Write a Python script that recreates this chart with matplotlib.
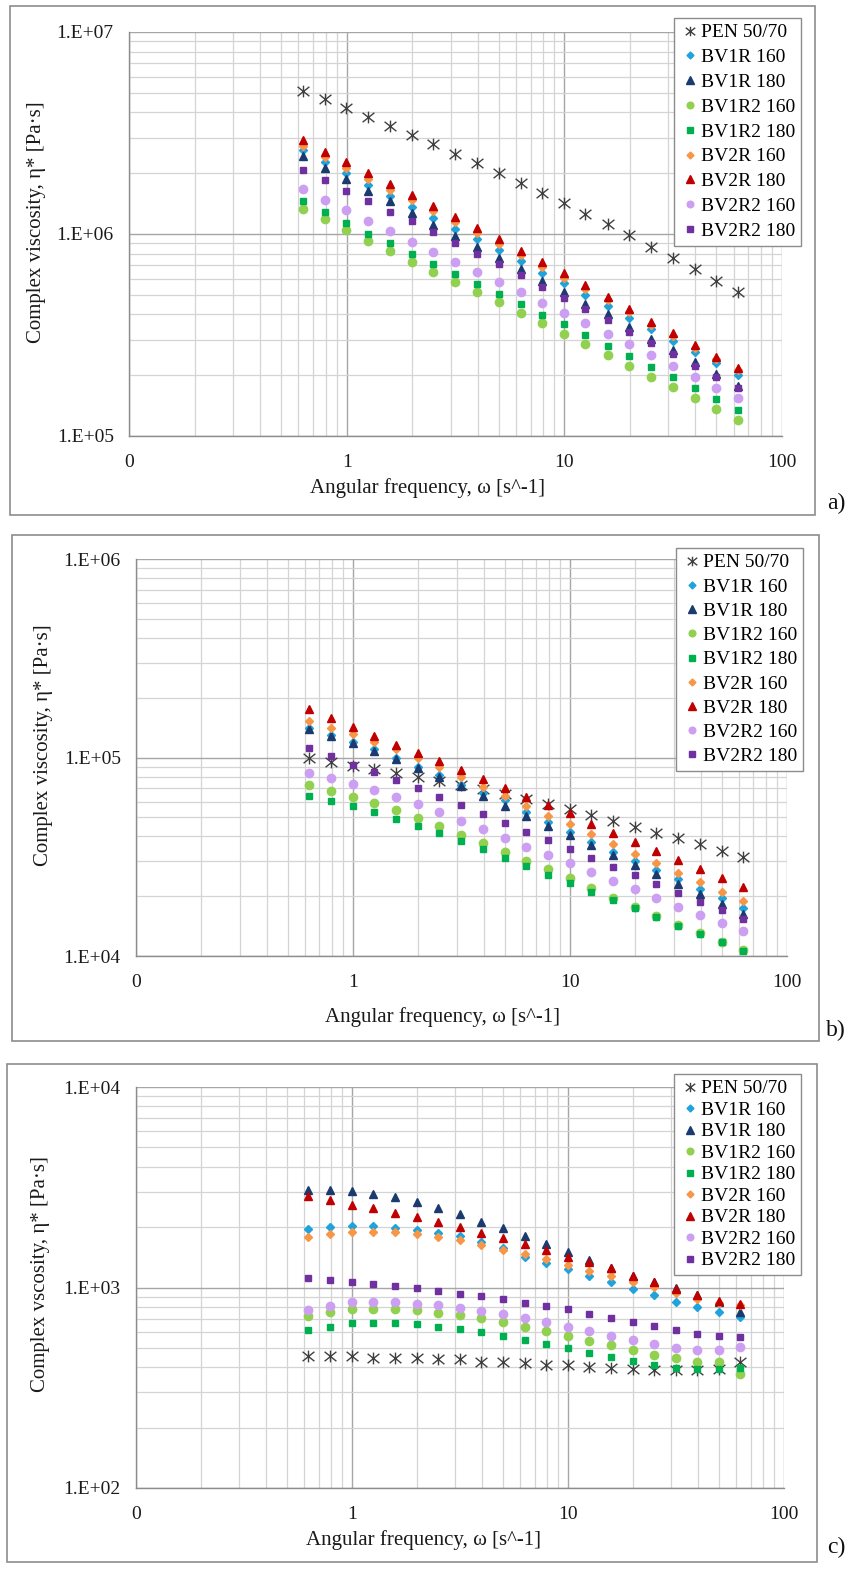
import math
import matplotlib
matplotlib.use('Agg')
import matplotlib.pyplot as plt
from matplotlib.path import Path
from matplotlib.patches import Rectangle
from matplotlib.ticker import FixedLocator, LogLocator, NullFormatter

plt.rcParams['font.family'] = ['Liberation Serif', 'DejaVu Serif']

# ---- data ----
freq = [0.628, 0.791, 0.996, 1.25, 1.58, 1.99, 2.5, 3.15, 3.97, 5.0, 6.29,
        7.92, 9.97, 12.5, 15.8, 19.9, 25.0, 31.5, 39.7, 50.0, 62.8]

names = ['PEN 50/70', 'BV1R 160', 'BV1R 180', 'BV1R2 160', 'BV1R2 180',
         'BV2R 160', 'BV2R 180', 'BV2R2 160', 'BV2R2 180']

# panel a)
pen_a = [5.1e6, 4.66e6, 4.22e6, 3.8e6, 3.43e6, 3.1e6, 2.79e6, 2.5e6, 2.24e6, 2.01e6, 1.79e6,
         1.6e6, 1.43e6, 1.26e6, 1.12e6, 9.86e5, 8.66e5, 7.64e5, 6.73e5, 5.87e5, 5.18e5]
bv1r160_a = [2.61e6, 2.26e6, 2.0e6, 1.74e6, 1.54e6, 1.36e6, 1.2e6, 1.06e6, 9.42e5, 8.34e5, 7.35e5,
             6.43e5, 5.7e5, 4.99e5, 4.41e5, 3.85e5, 3.37e5, 2.96e5, 2.61e5, 2.29e5, 2.0e5]
bv1r180_a = [2.44e6, 2.13e6, 1.87e6, 1.64e6, 1.45e6, 1.27e6, 1.11e6, 9.77e5, 8.65e5, 7.59e5, 6.71e5,
             5.87e5, 5.18e5, 4.5e5, 4.0e5, 3.48e5, 3.01e5, 2.67e5, 2.33e5, 2.03e5, 1.77e5]
bv1r2160_a = [1.33e6, 1.18e6, 1.05e6, 9.23e5, 8.2e5, 7.29e5, 6.5e5, 5.78e5, 5.14e5, 4.59e5, 4.05e5,
              3.61e5, 3.2e5, 2.84e5, 2.52e5, 2.23e5, 1.97e5, 1.74e5, 1.54e5, 1.36e5, 1.2e5]
bv1r2180_a = [1.46e6, 1.29e6, 1.14e6, 1.0e6, 9.0e5, 7.98e5, 7.08e5, 6.34e5, 5.65e5, 5.05e5, 4.49e5,
              3.98e5, 3.57e5, 3.16e5, 2.8e5, 2.49e5, 2.2e5, 1.95e5, 1.72e5, 1.52e5, 1.35e5]
bv2r160_a = [2.72e6, 2.4e6, 2.12e6, 1.88e6, 1.66e6, 1.47e6, 1.3e6, 1.15e6, 1.01e6, 8.9e5, 7.85e5,
             6.9e5, 6.08e5, 5.33e5, 4.7e5, 4.1e5, 3.56e5, 3.12e5, 2.74e5, 2.4e5, 2.12e5]
bv2r180_a = [2.92e6, 2.55e6, 2.26e6, 2.0e6, 1.76e6, 1.56e6, 1.38e6, 1.22e6, 1.07e6, 9.42e5, 8.26e5,
             7.26e5, 6.38e5, 5.57e5, 4.9e5, 4.26e5, 3.68e5, 3.22e5, 2.82e5, 2.47e5, 2.18e5]
bv2r2160_a = [1.67e6, 1.47e6, 1.31e6, 1.16e6, 1.03e6, 9.16e5, 8.17e5, 7.24e5, 6.5e5, 5.78e5, 5.14e5,
              4.57e5, 4.07e5, 3.61e5, 3.2e5, 2.84e5, 2.52e5, 2.22e5, 1.95e5, 1.73e5, 1.54e5]
bv2r2180_a = [2.07e6, 1.85e6, 1.64e6, 1.46e6, 1.29e6, 1.16e6, 1.02e6, 9.0e5, 7.96e5, 7.08e5, 6.25e5,
              5.48e5, 4.84e5, 4.26e5, 3.75e5, 3.28e5, 2.88e5, 2.54e5, 2.23e5, 1.95e5, 1.72e5]

# panel b)
pen_b = [9.91e4, 9.46e4, 9.1e4, 8.71e4, 8.32e4, 7.94e4, 7.62e4, 7.28e4, 6.92e4, 6.55e4, 6.21e4,
         5.83e4, 5.48e4, 5.12e4, 4.76e4, 4.49e4, 4.18e4, 3.92e4, 3.66e4, 3.4e4, 3.16e4]
bv1r160_b = [1.4e5, 1.3e5, 1.2e5, 1.1e5, 1.0e5, 8.99e4, 8.17e4, 7.28e4, 6.61e4, 6.11e4, 5.33e4,
             4.75e4, 4.23e4, 3.77e4, 3.36e4, 3.02e4, 2.71e4, 2.44e4, 2.17e4, 1.95e4, 1.75e4]
bv1r180_b = [1.39e5, 1.29e5, 1.18e5, 1.08e5, 9.82e4, 8.81e4, 8.0e4, 7.21e4, 6.4e4, 5.71e4, 5.09e4,
             4.52e4, 4.07e4, 3.62e4, 3.23e4, 2.87e4, 2.59e4, 2.31e4, 2.05e4, 1.83e4, 1.62e4]
bv1r2160_b = [7.24e4, 6.81e4, 6.35e4, 5.87e4, 5.42e4, 4.94e4, 4.52e4, 4.08e4, 3.7e4, 3.34e4, 3.02e4,
              2.74e4, 2.46e4, 2.19e4, 1.95e4, 1.77e4, 1.59e4, 1.43e4, 1.3e4, 1.18e4, 1.07e4]
bv1r2180_b = [6.4e4, 6.04e4, 5.7e4, 5.31e4, 4.9e4, 4.54e4, 4.15e4, 3.79e4, 3.44e4, 3.13e4, 2.84e4,
              2.56e4, 2.34e4, 2.11e4, 1.91e4, 1.74e4, 1.57e4, 1.42e4, 1.29e4, 1.17e4, 1.06e4]
bv2r160_b = [1.53e5, 1.41e5, 1.31e5, 1.2e5, 1.1e5, 9.98e4, 8.93e4, 8.0e4, 7.13e4, 6.4e4, 5.71e4,
             5.09e4, 4.6e4, 4.1e4, 3.66e4, 3.27e4, 2.93e4, 2.63e4, 2.35e4, 2.11e4, 1.9e4]
bv2r180_b = [1.75e5, 1.59e5, 1.43e5, 1.29e5, 1.16e5, 1.05e5, 9.64e4, 8.65e4, 7.76e4, 7.0e4, 6.3e4,
             5.77e4, 5.24e4, 4.6e4, 4.15e4, 3.77e4, 3.38e4, 3.05e4, 2.74e4, 2.46e4, 2.23e4]
bv2r2160_b = [8.32e4, 7.85e4, 7.36e4, 6.85e4, 6.35e4, 5.83e4, 5.31e4, 4.81e4, 4.35e4, 3.94e4, 3.56e4,
              3.24e4, 2.95e4, 2.66e4, 2.4e4, 2.18e4, 1.97e4, 1.77e4, 1.61e4, 1.46e4, 1.33e4]
bv2r2180_b = [1.12e5, 1.02e5, 9.16e4, 8.49e4, 7.71e4, 7.0e4, 6.35e4, 5.74e4, 5.19e4, 4.68e4, 4.23e4,
              3.84e4, 3.46e4, 3.1e4, 2.82e4, 2.56e4, 2.3e4, 2.08e4, 1.88e4, 1.71e4, 1.53e4]

# panel c)
pen_c = [456, 455, 455, 446, 446, 443, 438, 438, 426, 426, 421,
         413, 410, 402, 397, 394, 387, 387, 387, 394, 423]
bv1r160_c = [1954, 2005, 2037, 2028, 1991, 1936, 1879, 1816, 1694, 1581, 1426,
             1321, 1233, 1146, 1062, 983, 918, 849, 796, 757, 715]
bv1r180_c = [3048, 3069, 3013, 2917, 2812, 2667, 2489, 2323, 2133, 1977, 1807,
             1648, 1510, 1371, 1247, 1146, 1062, 991, 918, 849, 757]
bv1r2160_c = [721, 757, 778, 782, 782, 769, 748, 729, 702, 670, 637,
              607, 574, 542, 516, 487, 463, 443, 426, 426, 372]
bv1r2180_c = [611, 637, 662, 667, 667, 655, 637, 621, 601, 573, 547,
              520, 497, 469, 448, 430, 413, 397, 394, 394, 397]
bv2r160_c = [1782, 1845, 1901, 1901, 1888, 1849, 1782, 1726, 1629, 1538, 1469,
             1384, 1294, 1208, 1143, 1069, 1002, 935, 877, 834, 818]
bv2r180_c = [2844, 2729, 2582, 2489, 2350, 2244, 2118, 2014, 1879, 1762, 1648,
             1538, 1426, 1335, 1256, 1146, 1062, 983, 918, 856, 824]
bv2r2160_c = [772, 811, 843, 843, 843, 830, 818, 793, 766, 735, 702,
              670, 637, 607, 574, 547, 522, 500, 487, 487, 506]
bv2r2180_c = [1112, 1086, 1062, 1038, 1019, 991, 961, 931, 910, 877, 839,
              809, 778, 740, 706, 675, 644, 615, 588, 570, 564]

panels = [
    ([pen_a, bv1r160_a, bv1r180_a, bv1r2160_a, bv1r2180_a, bv2r160_a, bv2r180_a, bv2r2160_a, bv2r2180_a],
     (1e5, 1e7), 'Complex viscosity, \u03b7* [Pa\u00b7s]', 'a)'),
    ([pen_b, bv1r160_b, bv1r180_b, bv1r2160_b, bv1r2180_b, bv2r160_b, bv2r180_b, bv2r2160_b, bv2r2180_b],
     (1e4, 1e6), 'Complex viscosity, \u03b7* [Pa\u00b7s]', 'b)'),
    ([pen_c, bv1r160_c, bv1r180_c, bv1r2160_c, bv1r2180_c, bv2r160_c, bv2r180_c, bv2r2160_c, bv2r2180_c],
     (1e2, 1e4), 'Complex vscosity, \u03b7* [Pa\u00b7s]', 'c)'),
]

# ---- styles ----
star = Path([(-0.5, -0.4), (0.5, 0.4), (-0.5, 0.4), (0.5, -0.4), (0, -0.5), (0, 0.5)],
            [Path.MOVETO, Path.LINETO, Path.MOVETO, Path.LINETO, Path.MOVETO, Path.LINETO])
styles = [
    dict(marker=star, color='#404040', ms=8.5, mfc='none', mew=1.0),
    dict(marker='D', color='#1FA3DD', ms=4.4),
    dict(marker='^', color='#1B3A6F', ms=6.4),
    dict(marker='o', color='#92D050', ms=6.0),
    dict(marker='s', color='#00B050', ms=4.8),
    dict(marker='D', color='#F79646', ms=4.4),
    dict(marker='^', color='#C00000', ms=6.4),
    dict(marker='o', color='#CC9FF2', ms=6.0),
    dict(marker='s', color='#7030A0', ms=4.8),
]

W, H = 853, 1581
fig = plt.figure(figsize=(W / 100, H / 100), dpi=100)


def fx(px):
    return px / W


def fy(py):
    return 1 - py / H


# pixel boxes: axes (l, t, r, b), border (l, t, r, b), legend top-left + row spacing,
# x-label centre, y-label (right edge, centre), letter pos
layout = [
    dict(ax=(129, 32, 782, 436), box=(10, 6, 815, 515), leg=(674, 18), ls=0.37,
         xl=(428, 488), yl=(46, 222), let=(836, 503)),
    dict(ax=(136, 559, 787, 956), box=(12, 535, 819, 1041), leg=(676, 548), ls=0.34,
         xl=(443, 1017), yl=(53, 745), let=(836, 1030)),
    dict(ax=(136, 1087, 784, 1488), box=(7, 1064, 817, 1562), leg=(674, 1074), ls=0.2,
         xl=(424, 1540), yl=(50, 1274), let=(836, 1547)),
]

for (series, ylim, ylab, letter), lay in zip(panels, layout):
    l, t, r, b = lay['ax']
    ax = fig.add_axes([fx(l), fy(b), fx(r - l), (b - t) / H])
    ax.set_xscale('log')
    ax.set_yscale('log')
    ax.set_xlim(0.1, 100)
    ax.set_ylim(*ylim)

    for i, (name, vals) in enumerate(zip(names, series)):
        ax.plot(freq, vals, linestyle='none', label=name, zorder=3 + i, **styles[i])

    # excel-like grid
    ax.xaxis.set_major_locator(FixedLocator([0.1, 1, 10, 100]))
    ax.set_xticklabels(['0', '1', '10', '100'])
    ax.xaxis.set_minor_locator(LogLocator(base=10, subs=range(2, 10)))
    ax.xaxis.set_minor_formatter(NullFormatter())
    lo, hi = ylim
    yt = [lo, lo * 10, hi]
    ax.yaxis.set_major_locator(FixedLocator(yt))
    ax.set_yticklabels(['1.E+%02d' % round(math.log10(v)) for v in yt])
    ax.yaxis.set_minor_locator(LogLocator(base=10, subs=range(2, 10)))
    ax.yaxis.set_minor_formatter(NullFormatter())
    ax.grid(True, which='major', color='#A6A6A6', lw=1.0)
    ax.grid(True, which='minor', color='#D4D4D4', lw=0.9)
    ax.set_axisbelow(True)
    ax.tick_params(which='both', length=0, labelsize=14, colors='#1a1a1a')
    ax.tick_params(axis='x', pad=13)
    ax.tick_params(axis='y', pad=11)
    for s in ['top', 'right']:
        ax.spines[s].set_visible(False)
    for s in ['left', 'bottom']:
        ax.spines[s].set_color('#8C8C8C')
        ax.spines[s].set_linewidth(1.0)

    ax.set_ylabel(ylab, fontsize=15, color='#1a1a1a')
    ax.yaxis.set_label_coords((lay['yl'][0] - l) / (r - l), (b - lay['yl'][1]) / (b - t))
    fig.text(fx(lay['xl'][0]), fy(lay['xl'][1]), 'Angular frequency, \u03c9 [s^-1]',
             fontsize=15, ha='center', va='center', color='#1a1a1a')

    leg = ax.legend(loc='upper left', bbox_to_anchor=(fx(lay['leg'][0]), fy(lay['leg'][1])),
                    bbox_transform=fig.transFigure, borderaxespad=0, fontsize=14,
                    frameon=True, fancybox=False, framealpha=1, edgecolor='#8C8C8C',
                    handlelength=1.0, handletextpad=0.1, labelspacing=lay['ls'],
                    borderpad=0.3, markerscale=0.8)
    leg.get_frame().set_linewidth(1.0)
    leg.set_zorder(20)

    bl, bt, br, bb = lay['box']
    fig.patches.append(Rectangle((fx(bl), fy(bb)), fx(br - bl), (bb - bt) / H,
                                 transform=fig.transFigure, fill=False,
                                 edgecolor='#8C8C8C', lw=1.2))
    fig.text(fx(lay['let'][0]), fy(lay['let'][1]), letter, fontsize=17,
             ha='center', va='center', color='#111111')

fig.savefig('out.png', dpi=100)
